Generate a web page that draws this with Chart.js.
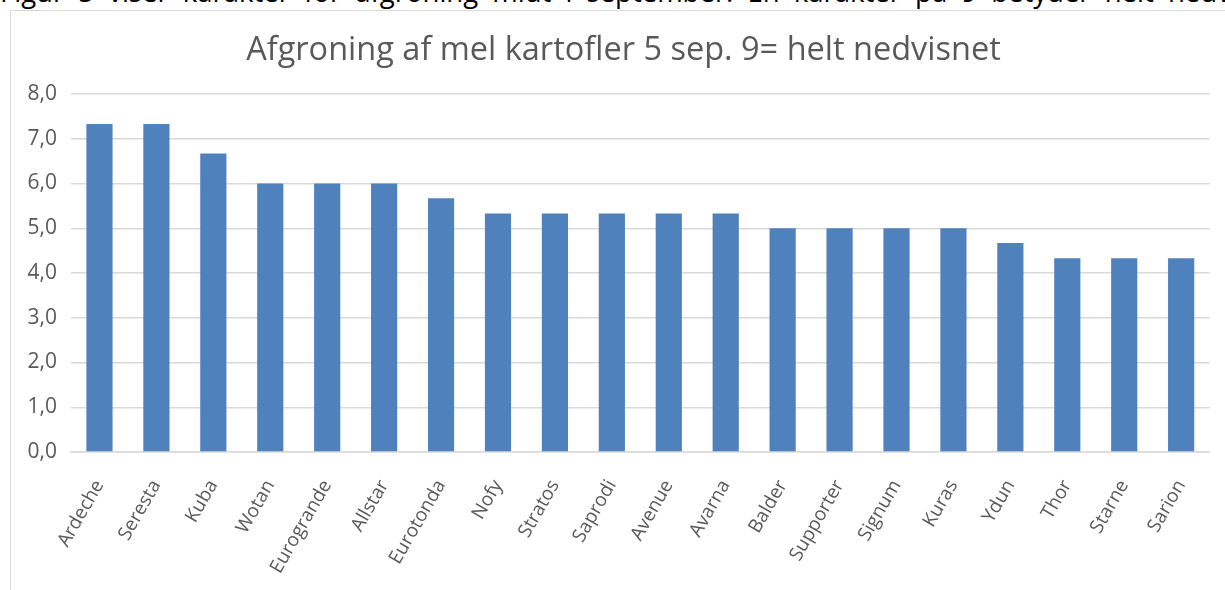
<!DOCTYPE html>
<html>
<head>
<meta charset="utf-8">
<script src="https://cdn.jsdelivr.net/npm/chart.js"></script>
<style>
  html, body { margin: 0; padding: 0; background: #fff; overflow: hidden; }
  body { width: 1225px; height: 590px; position: relative; }
  #caption {
    position: absolute; left: 0; top: -23px; width: 1400px; white-space: nowrap;
    font-family: "Open Sans", sans-serif; font-size: 27.5px; line-height: 30px; color: #000;
    word-spacing: 7px;
  }
  #frame {
    position: absolute; left: 10px; top: 10px; width: 1300px; height: 700px;
    border: 1px solid #d9d9d9; box-sizing: border-box;
  }
  #chart { position: absolute; left: 0; top: 0; }
</style>
</head>
<body>
<div id="caption">Figur 5 viser karakter for afgroning midt i september. En karakter på 9 betyder helt nedvisnet.</div>
<div id="frame"></div>
<canvas id="chart" width="1225" height="590"></canvas>
<script>
  // sorter efter afgroning, gennemsnit af tre bedømmelser
  const varieties = ["Ardeche", "Seresta", "Kuba", "Wotan", "Eurogrande", "Allstar", "Eurotonda",
    "Nofy", "Stratos", "Saprodi", "Avenue", "Avarna", "Balder", "Supporter", "Signum", "Kuras",
    "Ydun", "Thor", "Starne", "Sarion"];
  const scores = [7.33, 7.33, 6.67, 6.0, 6.0, 6.0, 5.67,
    5.33, 5.33, 5.33, 5.33, 5.33, 5.0, 5.0, 5.0, 5.0,
    4.67, 4.33, 4.33, 4.33];
  const yMin = 0;
  const yMax = 8;
  const yStep = 1;

  const grey = "#595959";
  const font = "'Open Sans', sans-serif";

  new Chart(document.getElementById("chart").getContext("2d"), {
    type: "bar",
    data: {
      labels: varieties,
      datasets: [{
        label: "Afgroning",
        data: scores,
        backgroundColor: "#4f81bd",
        borderWidth: 0,
        categoryPercentage: 1,
        barPercentage: 0.46
      }]
    },
    options: {
      responsive: false,
      animation: false,
      // venstre padding skubber titlen lidt mod hoejre som i Excel
      layout: { padding: { left: 26, right: 4, top: 0, bottom: 0 } },
      plugins: {
        legend: { display: false },
        tooltip: { enabled: false },
        title: {
          display: true,
          text: "Afgroning af mel kartofler 5 sep. 9= helt nedvisnet",
          color: grey,
          font: { family: font, size: 32.5, weight: "normal", lineHeight: 1.2 },
          padding: { top: 31, bottom: 24 }
        }
      },
      scales: {
        x: {
          grid: { display: false, drawTicks: false },
          border: { display: true, color: "#d9d9d9", width: 1.5 },
          ticks: {
            color: grey,
            font: { family: font, size: 19 },
            minRotation: 60,
            maxRotation: 60,
            autoSkip: false,
            padding: 24
          },
          afterFit: function (scale) { scale.height = 138; }
        },
        y: {
          min: yMin,
          max: yMax,
          grid: { color: "#d9d9d9", lineWidth: 1.5, drawTicks: false },
          border: { display: false },
          ticks: {
            stepSize: yStep,
            color: grey,
            font: { family: font, size: 21 },
            padding: 14,
            callback: v => v.toFixed(1).replace(".", ",")
          },
          afterFit: function (scale) { scale.width = 45; }
        }
      }
    }
  });
</script>
</body>
</html>
